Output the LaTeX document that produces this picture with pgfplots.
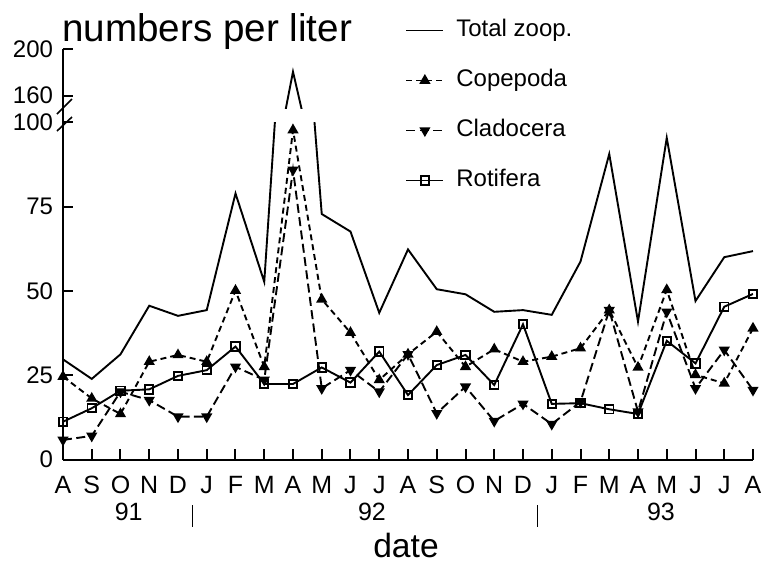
\documentclass[border=0pt]{standalone}
\usepackage{fontspec}
\setmainfont{Liberation Sans}
\usepackage{pgfplots}
\usepackage{pgfplotstable}
\pgfplotsset{compat=1.18}

% month index (Aug 91 = 0 ... Aug 93 = 24), numbers per liter
\pgfplotstableread{
idx total cope clad roti
0  29.7  24.6  5.8 11.2
1  23.9  18.1  7.0 15.2
2  31.2  13.5 20.1 20.4
3  45.6  29.0 17.6 20.8
4  42.6  31.0 12.7 24.8
5  44.3  29.0 12.7 26.5
6  78.9  50.1 27.5 33.5
7  52.7  27.5 23.6 22.4
8  180.6 97.7 85.9 22.4
9  72.8  47.5 21.1 27.3
10 67.6  37.6 26.5 22.8
11 43.5  23.6 20.1 32.0
12 62.3  31.2 31.2 19.1
13 50.5  37.9 13.7 28.0
14 49.0  27.5 21.6 31.0
15 43.8  32.7 11.4 22.1
16 44.3  29.0 16.5 40.1
17 42.9  30.5 10.5 16.5
18 58.7  33.0 17.1 16.7
19 90.6  44.3 44.3 14.9
20 40.9  27.3 14.2 13.5
21 95.4  50.3 43.8 35.2
22 47.0  25.1 21.1 28.5
23 60.0  22.6 32.5 45.3
24 61.8  38.9 20.6 49.1
}\zoop

\begin{document}
\begin{tikzpicture}
\path[use as bounding box] (-31.5pt,-51.75pt) rectangle (349.5pt,229.75pt);
\pgfplotsset{
  brk/.style={
    scale only axis, width=345pt, xmin=0, xmax=24,
    axis y line*=left,
    axis line style={line width=1pt},
    tick align=inside, major tick length=5.2pt,
    tick style={line width=1pt, black},
    /pgf/number format/assume math mode=true,
    ticklabel style={font=\fontsize{12}{14}\selectfont},
    yticklabel style={anchor=east, inner sep=0pt, xshift=-4.8pt},
  },
  total/.style={black, solid, no marks, line width=0.95pt},
  cope/.style={black, line width=0.95pt, dash pattern=on 3pt off 2pt, mark=triangle*, mark size=2.3pt, mark options={solid}},
  clad/.style={black, line width=0.95pt, dash pattern=on 4.5pt off 2.2pt, mark=triangle*, mark size=2.3pt, mark options={solid, rotate=180}},
  roti/.style={black, solid, line width=0.95pt, mark=square, mark size=2.1pt, mark options={solid, fill=white, rounded corners=0.8pt}},
}
\begin{axis}[brk, height=168.6pt, ymin=0, ymax=100, ytick={0,25,50,75,100},
  axis x line*=bottom, xtick={0,...,24},
  xticklabels={A,S,O,N,D,J,F,M,A,M,J,J,A,S,O,N,D,J,F,M,A,M,J,J,A},
  xticklabel style={anchor=base, inner sep=0pt, yshift=-16.9pt, font=\fontsize{12.5}{14}\selectfont},
  legend style={at={(0.4957,1.309)}, anchor=north west, draw=none, fill=none,
    inner sep=0pt, row sep=13pt, column sep=6pt,
    font=\fontsize{12}{14}\selectfont,
    nodes={inner sep=0pt, text height=9pt, text depth=3pt}},
  legend cell align=left,
  legend image code/.code={\draw[mark repeat=2,mark phase=2,#1] plot coordinates {(0pt,0pt) (9.25pt,0pt) (18.5pt,0pt)};},
]
\addplot[total] table[x=idx, y=total] {\zoop};
\addlegendentry{Total zoop.}
\addplot[cope] table[x=idx, y=cope] {\zoop};
\addlegendentry{Copepoda}
\addplot[clad] table[x=idx, y=clad] {\zoop};
\addlegendentry{Cladocera}
\addplot[roti] table[x=idx, y=roti] {\zoop};
\addlegendentry{Rotifera}
\end{axis}
\begin{axis}[brk, at={(0pt,175.6pt)}, anchor=south west, height=29.5pt,
  ymin=149, ymax=200, ytick={160,200}, axis x line=none, xtick=\empty]
\addplot[total] table[x=idx, y=total] {\zoop};
\end{axis}
% axis break
\draw[line width=1pt] (0pt,168.6pt) -- (0pt,175.6pt);
\draw[line width=0.8pt] (-3pt,172.75pt) -- (4.5pt,180.25pt);
\draw[line width=0.8pt] (-3pt,164.25pt) -- (4.5pt,171.25pt);
% titles and years
\node[anchor=base west, inner sep=0pt, font=\fontsize{19.3}{22}\selectfont] at (-0.5pt,208.9pt) {numbers per liter};
\node[anchor=base, inner sep=0pt, font=\fontsize{16.8}{20}\selectfont] at (171.5pt,-48.75pt) {date};
\begin{scope}[every node/.style={anchor=base, inner sep=0pt, font=\fontsize{12.5}{14}\selectfont}]
\node at (32.85pt,-30.25pt) {91};
\node at (154.5pt,-30.25pt) {92};
\node at (299pt,-30.25pt) {93};
\end{scope}
\draw[line width=0.75pt] (64.75pt,-22.75pt) -- (64.75pt,-33.75pt);
\draw[line width=0.75pt] (237.2pt,-22.75pt) -- (237.2pt,-33.75pt);
\end{tikzpicture}
\end{document}
